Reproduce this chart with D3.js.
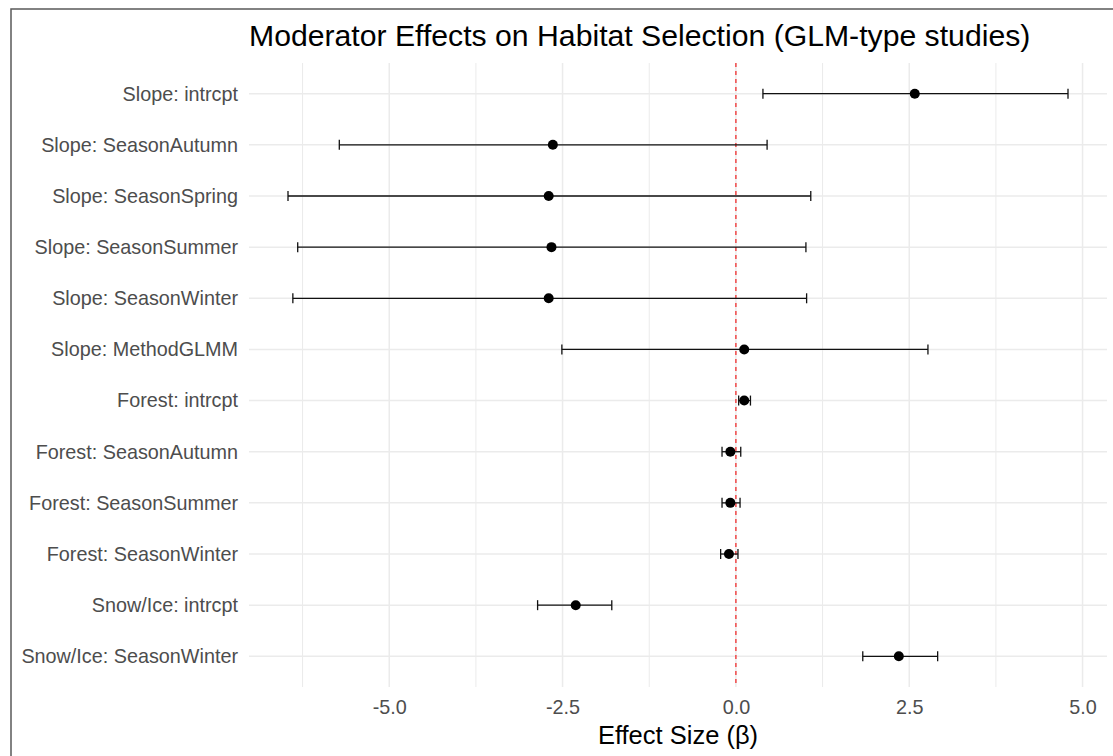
<!DOCTYPE html>
<html>
<head>
<meta charset="utf-8">
<script src="https://cdn.jsdelivr.net/npm/d3@7"></script>
<style>
  body { margin: 0; background: #fff; }
  svg { display: block; font-family: "Liberation Sans", Arial, sans-serif; }
</style>
</head>
<body>
<svg></svg>
<script>
var WIDTH = 1113;
var HEIGHT = 756;

// moderator terms, top to bottom
var terms = [
    "Slope: intrcpt",
    "Slope: SeasonAutumn",
    "Slope: SeasonSpring",
    "Slope: SeasonSummer",
    "Slope: SeasonWinter",
    "Slope: MethodGLMM",
    "Forest: intrcpt",
    "Forest: SeasonAutumn",
    "Forest: SeasonSummer",
    "Forest: SeasonWinter",
    "Snow/Ice: intrcpt",
    "Snow/Ice: SeasonWinter"
];
var estimate = [2.58, -2.64, -2.70, -2.66, -2.70, 0.12, 0.12, -0.08, -0.08, -0.10, -2.31, 2.35];
var lower    = [0.39, -5.72, -6.46, -6.32, -6.39, -2.51, 0.04, -0.20, -0.20, -0.22, -2.86, 1.83];
var upper    = [4.79,  0.45,  1.08,  1.01,  1.02,  2.77, 0.21,  0.07,  0.06,  0.03, -1.79, 2.91];
var xTicks = [-5, -2.5, 0, 2.5, 5];
var xMinor = [-6.25, -3.75, -1.25, 1.25, 3.75];

var rows = terms.map(function(t, i) {
    return {term: t, est: estimate[i], lo: lower[i], hi: upper[i]};
});

var svg = d3.select("svg")
    .attr("width", WIDTH)
    .attr("height", HEIGHT);

var margin = {left: 249, right: 6, top: 63, bottom: 69};

// ggplot-like 5% expansion
var lo = d3.min(lower), hi = d3.max(upper);
var pad = (hi - lo) * 0.05;
var x = d3.scaleLinear()
    .domain([lo - pad, hi + pad])
    .range([margin.left, WIDTH - margin.right]);

var y = d3.scalePoint()
    .domain(terms)
    .range([margin.top, HEIGHT - margin.bottom])
    .padding(0.6);

// outer border
svg.append("rect")
    .attr("x", 11).attr("y", 9)
    .attr("width", WIDTH + 20).attr("height", HEIGHT + 20)
    .attr("fill", "none")
    .attr("stroke", "#5a5a5a")
    .attr("stroke-width", 1.5);

var grid = svg.append("g");
grid.selectAll(".minor")
    .data(xMinor)
    .enter().append("line")
    .attr("x1", function(d) { return x(d); })
    .attr("x2", function(d) { return x(d); })
    .attr("y1", margin.top).attr("y2", HEIGHT - margin.bottom)
    .attr("stroke", "#ebebeb").attr("stroke-width", 1);
grid.selectAll(".major")
    .data(xTicks)
    .enter().append("line")
    .attr("x1", function(d) { return x(d); })
    .attr("x2", function(d) { return x(d); })
    .attr("y1", margin.top).attr("y2", HEIGHT - margin.bottom)
    .attr("stroke", "#ebebeb").attr("stroke-width", 1.5);
grid.selectAll(".hgrid")
    .data(terms)
    .enter().append("line")
    .attr("x1", margin.left).attr("x2", WIDTH - margin.right)
    .attr("y1", function(d) { return y(d); })
    .attr("y2", function(d) { return y(d); })
    .attr("stroke", "#ebebeb").attr("stroke-width", 1.5);

// zero reference
svg.append("line")
    .attr("x1", x(0)).attr("x2", x(0))
    .attr("y1", margin.top).attr("y2", HEIGHT - margin.bottom)
    .attr("stroke", "#f03c3c")
    .attr("stroke-width", 1.4)
    .attr("stroke-dasharray", "4,4");

// error bars
var bars = svg.append("g").selectAll("g")
    .data(rows)
    .enter().append("g")
    .attr("stroke", "#111")
    .attr("stroke-width", 1.3);
bars.append("line")
    .attr("x1", function(d) { return x(d.lo); })
    .attr("x2", function(d) { return x(d.hi); })
    .attr("y1", function(d) { return y(d.term); })
    .attr("y2", function(d) { return y(d.term); });
bars.append("line")
    .attr("x1", function(d) { return x(d.lo); })
    .attr("x2", function(d) { return x(d.lo); })
    .attr("y1", function(d) { return y(d.term) - 5; })
    .attr("y2", function(d) { return y(d.term) + 5; });
bars.append("line")
    .attr("x1", function(d) { return x(d.hi); })
    .attr("x2", function(d) { return x(d.hi); })
    .attr("y1", function(d) { return y(d.term) - 5; })
    .attr("y2", function(d) { return y(d.term) + 5; });

svg.append("g").selectAll("circle")
    .data(rows)
    .enter().append("circle")
    .attr("cx", function(d) { return x(d.est); })
    .attr("cy", function(d) { return y(d.term); })
    .attr("r", 5)
    .attr("fill", "#000");

// axes (no lines, just labels)
var yAxis = svg.append("g")
    .attr("transform", "translate(" + (margin.left - 4) + ",0)")
    .call(d3.axisLeft(y).tickSize(0).tickPadding(7));
var xAxis = svg.append("g")
    .attr("transform", "translate(0," + (HEIGHT - margin.bottom) + ")")
    .call(d3.axisBottom(x).tickValues(xTicks).tickFormat(d3.format(".1f")).tickSize(0).tickPadding(13));
[yAxis, xAxis].forEach(function(a) {
    a.select(".domain").remove();
    a.selectAll("text")
        .attr("fill", "#4d4d4d")
        .style("font-size", "19.8px")
        .style("font-family", "'Liberation Sans', Arial, sans-serif");
});
xAxis.selectAll("text").text(function(d) { return d3.format(".1f")(d).replace("−", "-"); });

svg.append("text")
    .attr("x", (margin.left + WIDTH - margin.right) / 2)
    .attr("y", 744)
    .attr("text-anchor", "middle")
    .style("font-size", "25.5px")
    .attr("fill", "#000")
    .text("Effect Size (β)");

svg.append("text")
    .attr("x", margin.left)
    .attr("y", 46)
    .style("font-size", "30.2px")
    .attr("fill", "#000")
    .text("Moderator Effects on Habitat Selection (GLM-type studies)");
</script>
</body>
</html>
